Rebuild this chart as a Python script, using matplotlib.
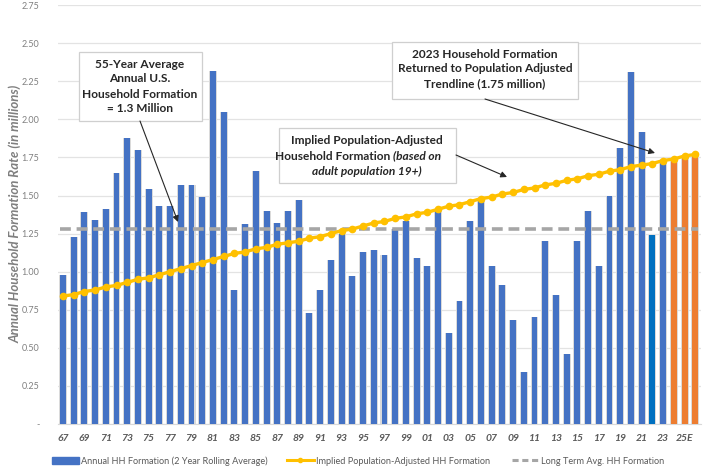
import matplotlib.pyplot as plt
import numpy as np
from matplotlib.lines import Line2D
from matplotlib.patches import Patch, Rectangle

# ---- data (millions of households) ----
years = list(range(1967, 2027))
hh_formation = [
    0.98, 1.23, 1.39, 1.34, 1.41, 1.65, 1.88, 1.80, 1.54, 1.43,   # 67-76
    1.43, 1.57, 1.57, 1.49, 2.32, 2.05, 0.88, 1.31, 1.66, 1.40,   # 77-86
    1.32, 1.40, 1.47, 0.73, 0.88, 1.08, 1.25, 0.97, 1.13, 1.14,   # 87-96
    1.11, 1.28, 1.33, 1.09, 1.04, 1.40, 0.60, 0.81, 1.33, 1.47,   # 97-06
    1.04, 0.91, 0.68, 0.34, 0.70, 1.20, 0.85, 0.46, 1.20, 1.40,   # 07-16
    1.04, 1.50, 1.81, 2.31, 1.92, 1.24, 1.73, 1.74, 1.76, 1.77,   # 17-26
]
pop_adjusted = [
    0.84, 0.85, 0.87, 0.88, 0.90, 0.91, 0.93, 0.95, 0.96, 0.98,
    1.00, 1.02, 1.04, 1.06, 1.08, 1.10, 1.12, 1.13, 1.15, 1.16,
    1.18, 1.19, 1.20, 1.22, 1.23, 1.25, 1.27, 1.28, 1.30, 1.32,
    1.33, 1.35, 1.36, 1.38, 1.39, 1.41, 1.43, 1.44, 1.46, 1.48,
    1.49, 1.51, 1.52, 1.54, 1.55, 1.57, 1.58, 1.60, 1.61, 1.63,
    1.64, 1.66, 1.67, 1.69, 1.70, 1.71, 1.73, 1.74, 1.76, 1.77,
]
long_term_avg = 1.28
estimate_years = [2024, 2025, 2026]
highlight_year = 2022

tick_labels = [f"{y % 100:02d}" if y < 2024 else f"{y % 100:02d}E" for y in years]

BLUE = "#4472C4"
BLUE_HL = "#0070C0"
ORANGE = "#ED7D31"
YELLOW = "#FFC000"
GRAY_DASH = "#A6A6A6"
TXT = "#595959"
INK = "#262626"

plt.rcParams["font.family"] = ["Lato", "DejaVu Sans"]

W, H = 709, 467
fig = plt.figure(figsize=(W / 100, H / 100), dpi=100)
ax = fig.add_axes([0.0812, 0.092, 0.907, 0.897])


def px(xp, yp):
    # pixel position (from top-left) -> figure fraction
    return xp / W, 1 - yp / H


x = np.arange(len(years))
colors = []
for y in years:
    if y in estimate_years:
        colors.append(ORANGE)
    elif y == highlight_year:
        colors.append(BLUE_HL)
    else:
        colors.append(BLUE)

# soft grey halo behind the bars, then the bars
ax.bar(x, hh_formation, width=0.74, color="#DADADA", zorder=2)
ax.bar(x, hh_formation, width=0.55, color=colors, zorder=3)

ax.plot([x[0] - 0.3, x[-1] + 0.3], [long_term_avg, long_term_avg],
        color=GRAY_DASH, lw=2.6, ls=(0, (3, 1.6)), zorder=4)
ax.plot(x, pop_adjusted, color=YELLOW, lw=2.4, marker="o", ms=4.5,
        mec=YELLOW, mfc=YELLOW, zorder=5)

ax.set_xlim(-0.5, len(years) - 0.5)
ax.set_ylim(0, 2.75)
yt = np.arange(0, 2.76, 0.25)
ax.set_yticks(yt)
ax.set_yticklabels(["-"] + [f"{v:.2f}" for v in yt[1:]], color="#808080", fontsize=6.5)
ax.set_xticks(x[::2])
ax.set_xticklabels(tick_labels[::2], fontsize=7.5, fontweight="bold",
                   fontstyle="italic", color=TXT)
ax.tick_params(length=0, pad=7)
ax.tick_params(axis="y", pad=13)
ax.grid(axis="y", color="#E3E3E3", lw=0.9, zorder=0)
for s in ["top", "right", "left"]:
    ax.spines[s].set_visible(False)
ax.spines["bottom"].set_color("#D9D9D9")

fig.text(*px(15, 214), "Annual Household Formation Rate (in millions)", rotation=90,
         ha="center", va="center", fontsize=9.5, fontweight="bold",
         fontstyle="italic", color="#7F7F7F")

# ---- call-out boxes (pixel layout) ----
def callout(x0, y0, x1, y1):
    (fx0, fy1), (fx1, fy0) = px(x0, y0), px(x1, y1)
    fig.add_artist(Rectangle((fx0, fy0), fx1 - fx0, fy1 - fy0, transform=fig.transFigure,
                             fc="white", ec="#CFCFCF", lw=0.9, zorder=6))


def line(xp, yp, s, ha="center", italic=False):
    return fig.text(*px(xp, yp), s, ha=ha, va="center", fontsize=8.6,
                    fontweight="bold", fontstyle="italic" if italic else "normal",
                    color=INK, zorder=7)


def arrow(p0, p1):
    fig.add_artist(plt.Annotation("", xy=px(*p1), xytext=px(*p0), xycoords="figure fraction",
                                  textcoords="figure fraction",
                                  arrowprops=dict(arrowstyle="-|>", color=INK, lw=0.8,
                                                  mutation_scale=9, shrinkA=0, shrinkB=0),
                                  zorder=7))


callout(79, 52, 202, 121)
for yp, s in zip([64, 79, 94, 108],
                 ["55-Year Average", "Annual U.S.", "Household Formation", "= 1.3 Million"]):
    line(140, yp, s)
arrow((140, 121), (178, 222))

callout(279, 128, 456, 183)
line(367, 141, "Implied Population-Adjusted")
line(393, 156, "Household Formation ", ha="right")
line(393, 156, "(based on", ha="left", italic=True)
line(367, 171, "adult population 19+)", italic=True)
arrow((456, 155), (507, 177))

callout(392, 42, 578, 99)
for yp, s in zip([54, 69, 84],
                 ["2023 Household Formation", "Returned to Population Adjusted",
                  "Trendline (1.75 million)"]):
    line(485, yp, s)
arrow((485, 99), (655, 153))

# ---- legend: one entry per anchor so the spacing follows the reference ----
handles = [
    Patch(color=BLUE),
    Line2D([0], [0], color=YELLOW, lw=2.2, marker="o", ms=3),
    Line2D([0], [0], color=GRAY_DASH, lw=2.2, ls=(0, (2, 1.2))),
]
labels = ["Annual HH Formation (2 Year Rolling Average)",
          "Implied Population-Adjusted HH Formation",
          "Long Term Avg. HH Formation"]
for h, lab, xp in zip(handles, labels, [52, 287, 512]):
    fig.legend([h], [lab], loc="center left", bbox_to_anchor=px(xp, 461),
               frameon=False, fontsize=6.6, labelcolor=TXT, borderpad=0,
               borderaxespad=0, handlelength=2.9, handletextpad=0.3)

fig.savefig("out.png", dpi=100)
